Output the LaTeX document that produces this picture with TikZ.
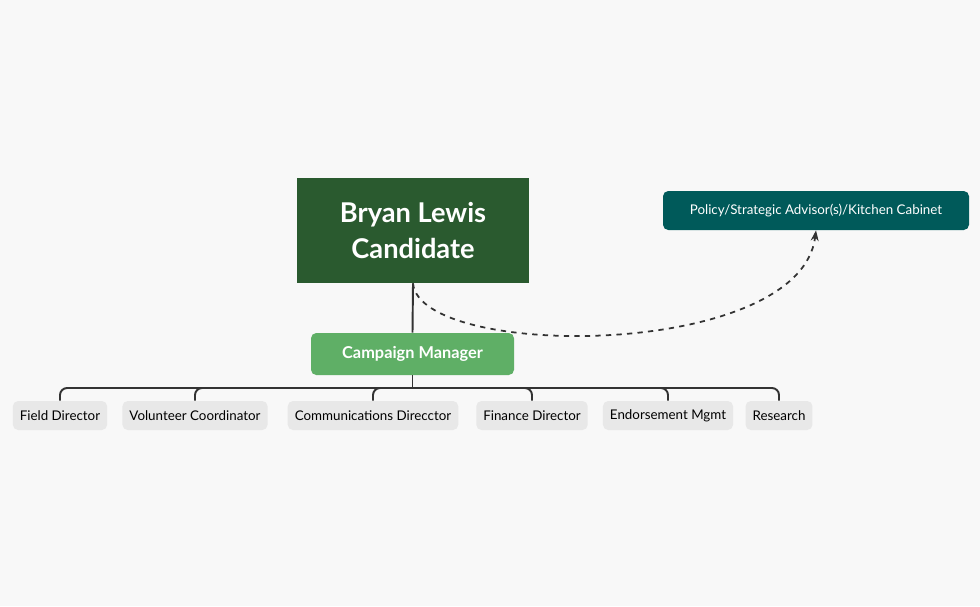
\documentclass[tikz,border=0pt]{standalone}
\usepackage{fontspec}
\setmainfont{Lato}
\usetikzlibrary{arrows.meta,positioning}
\definecolor{bgcol}{HTML}{F8F8F8}
\definecolor{candcol}{HTML}{2A5A2F}
\definecolor{mgrcol}{HTML}{5FAF66}
\definecolor{advcol}{HTML}{005A5A}
\definecolor{staffcol}{HTML}{E8E8E8}
\definecolor{linecol}{HTML}{333333}

\begin{document}
\begin{tikzpicture}[x=0.02cm,y=-0.02cm,
	staff/.style={fill=staffcol,rounded corners=3pt,minimum height=29*0.02cm,inner xsep=4pt,font=\fontsize{7.6}{9}\selectfont},
	bus/.style={linecol,line width=1.1pt,rounded corners=4pt}]
	% Background
	\fill[bgcol] (0,0) rectangle (980,606);
	\useasboundingbox (0,0) rectangle (980,606);

	% The candidate and the manager
	\node[fill=candcol,text=white,font=\bfseries\fontsize{15.5}{20}\selectfont,align=center,
		minimum width=232*0.02cm,minimum height=105*0.02cm] (cand) at (413,230.5) {Bryan Lewis\\Candidate};
	\node[fill=mgrcol,text=white,font=\bfseries\fontsize{9.3}{11}\selectfont,rounded corners=3pt,
		minimum width=203*0.02cm,minimum height=42*0.02cm] (mgr) at (412.5,354) {Campaign Manager};
	% The advisors
	\node[fill=advcol,text=white,font=\fontsize{7.6}{9}\selectfont,rounded corners=3pt,
		minimum width=306*0.02cm,minimum height=39*0.02cm] (adv) at (816,210.5) {Policy/Strategic Advisor(s)/Kitchen Cabinet};

	% The staff
	\node[staff] (field) at (60,415.5) {Field Director};
	\node[staff] (vol) at (195,415.5) {Volunteer Coordinator};
	\node[staff] (comm) at (373,415.5) {Communications Direcctor};
	\node[staff] (fin) at (532,415.5) {Finance Director};
	\node[staff] (endo) at (668,415.5) {Endorsement Mgmt};
	\node[staff] (res) at (779,415.5) {Research};

	% Connectors
	\draw[bus] (cand.south) -- (mgr.north);
	\coordinate (busmid) at (412.5,388);
	\draw[bus] (mgr.south) -- (busmid);
	\draw[bus] (field.north) |- (busmid) -| (res.north);
	\foreach \n in {vol,comm,fin,endo}
		\draw[bus] (\n.north) |- (busmid);
	\draw[linecol,line width=1pt,dashed,-{Stealth[length=6pt]}] (cand.south)
		.. controls (420,360) and (800,360) .. (adv.south);
\end{tikzpicture}
\end{document}
